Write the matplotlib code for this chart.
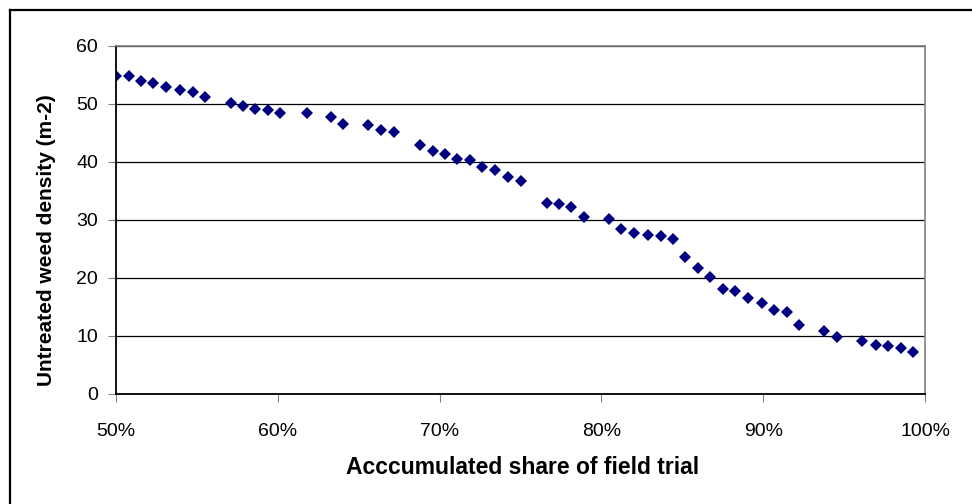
import matplotlib
matplotlib.use("Agg")
import matplotlib.pyplot as plt
from matplotlib.lines import Line2D
from matplotlib.ticker import PercentFormatter, MultipleLocator

# dados (share em %, densidade m-2)
share = [50.0, 50.78, 51.53, 52.31, 53.09, 53.96, 54.74, 55.50, 57.09, 57.83,
         58.59, 59.37, 60.14, 61.78, 63.29, 64.05, 65.6, 66.38, 67.16, 68.79,
         69.57, 70.33, 71.09, 71.88, 72.64, 73.42, 74.21, 75.05, 76.62, 77.38,
         78.12, 78.92, 80.45, 81.23, 82.0, 82.86, 83.66, 84.41, 85.19, 85.97,
         86.73, 87.5, 88.26, 89.04, 89.91, 90.69, 91.45, 92.23, 93.74, 94.54,
         96.09, 96.95, 97.73, 98.50, 99.28]
density = [54.9, 54.9, 53.9, 53.6, 53.0, 52.4, 52.1, 51.2, 50.2, 49.7,
           49.2, 49.0, 48.4, 48.4, 47.8, 46.6, 46.3, 45.6, 45.1, 42.9,
           41.9, 41.3, 40.6, 40.4, 39.1, 38.6, 37.4, 36.7, 33.0, 32.8,
           32.2, 30.6, 30.2, 28.4, 27.8, 27.5, 27.2, 26.7, 23.6, 21.8,
           20.2, 18.1, 17.8, 16.5, 15.7, 14.4, 14.1, 11.9, 10.8, 9.8,
           9.2, 8.5, 8.3, 7.9, 7.3]

plt.rcParams["font.family"] = ["Liberation Sans", "DejaVu Sans"]

fig = plt.figure(figsize=(9.72, 5.04), dpi=100)
ax = fig.add_axes([116 / 972, 110 / 504, 809 / 972, 348 / 504])

# grafico
ax.plot(share, density, linestyle="none", marker="D", ms=6.5,
        color="#000080", markeredgewidth=0)

ax.set_xlim(50, 100)
ax.set_ylim(0, 60)
ax.xaxis.set_major_locator(MultipleLocator(10))
ax.yaxis.set_major_locator(MultipleLocator(10))
ax.xaxis.set_major_formatter(PercentFormatter(xmax=100, decimals=0))
ax.grid(axis="y", color="black", lw=0.9)
ax.set_axisbelow(True)

for s in ["top", "right"]:
    ax.spines[s].set_color("#808080")
    ax.spines[s].set_linewidth(1.2)
for s in ["left", "bottom"]:
    ax.spines[s].set_color("black")
    ax.spines[s].set_linewidth(1.3)

ax.tick_params(axis="y", direction="out", length=6, color="#808080",
               labelsize=14, pad=7)
ax.tick_params(axis="x", direction="out", length=6, color="#808080",
               labelsize=14, pad=15)

ax.set_xlabel("Acccumulated share of field trial", fontsize=16.5, fontweight="bold")
ax.set_ylabel("Untreated weed density (m-2)", fontsize=15, fontweight="bold")
ax.xaxis.set_label_coords(0.502, -0.21)
ax.xaxis.label.set_va("center")
ax.yaxis.set_label_coords(-0.0865, 0.443)
ax.yaxis.label.set_va("center")

# moldura externa
fig.add_artist(Line2D([9.5 / 972, 9.5 / 972], [0, 1 - 9.5 / 504], color="black", lw=1.6))
fig.add_artist(Line2D([9.5 / 972, 1], [1 - 9.5 / 504, 1 - 9.5 / 504], color="black", lw=1.6))

plt.savefig("out.png", dpi=100)
